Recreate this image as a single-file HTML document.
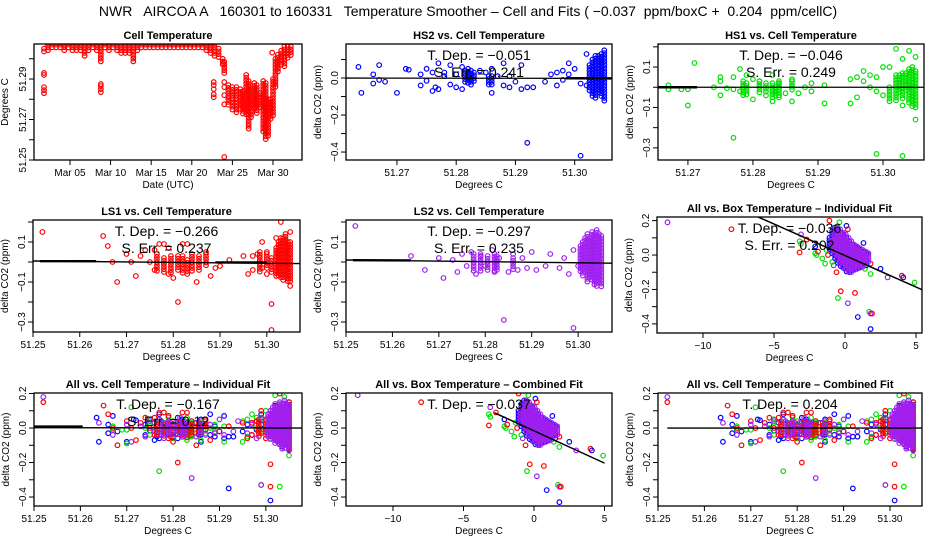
<!DOCTYPE html>
<html><head><meta charset="utf-8"><style>
html,body{margin:0;padding:0;background:#fff;}
svg{display:block;font-family:"Liberation Sans",sans-serif;}
</style></head><body>
<svg id="chart" width="936" height="540" viewBox="0 0 936 540" xmlns="http://www.w3.org/2000/svg">
<rect x="0" y="0" width="936" height="540" fill="#fff"/>
<text x="468" y="16" text-anchor="middle" font-size="14" xml:space="preserve">NWR   AIRCOA A   160301 to 160331   Temperature Smoother – Cell and Fits ( −0.037  ppm/boxC +  0.204  ppm/cellC)</text>
</svg>
<script>
// ===== Panel 1: cell temperature time series (range columns + isolated points)
const cellDay=[1.8,2.3,2.8,3.3,3.8,4.3,4.8,5.3,5.8,6.3,6.8,7.3,7.8,8.3,8.8,9.3,9.8,10.3,10.8,11.3,11.8,12.3,12.8,13.3,13.8,14.3,14.8,15.3,15.8,16.3,16.8,17.3,17.8,18.3,18.8,19.3,19.8,20.3,20.8,21.3,21.8,22.3,22.8,23.3,23.8,24.0,24.5,25.0,25.5,26.0,26.3,26.7,27.0,27.3,27.7,28.0,28.4,28.8,29.1,29.4,29.7,30.0,30.3,30.6,31.0,31.4,31.8,32.2];
const cellTop=[51.305,51.307,51.307,51.307,51.307,51.307,51.307,51.307,51.307,51.307,51.307,51.307,51.307,51.307,51.307,51.307,51.307,51.307,51.307,51.307,51.307,51.307,51.307,51.307,51.307,51.307,51.307,51.307,51.307,51.307,51.307,51.307,51.307,51.307,51.307,51.307,51.307,51.307,51.307,51.307,51.307,51.307,51.307,51.305,51.300,51.2985,51.287,51.286,51.286,51.285,51.284,51.292,51.289,51.285,51.288,51.287,51.283,51.289,51.288,51.280,51.280,51.290,51.300,51.302,51.304,51.306,51.306,51.306];
const cellBot=[51.303,51.304,51.3045,51.3045,51.305,51.304,51.305,51.3035,51.304,51.304,51.3005,51.304,51.3045,51.304,51.2985,51.3045,51.303,51.305,51.304,51.302,51.3015,51.302,51.2975,51.303,51.3045,51.3055,51.3055,51.3055,51.3055,51.3055,51.3055,51.3055,51.3055,51.3055,51.3055,51.3055,51.3055,51.3055,51.305,51.305,51.304,51.302,51.3005,51.300,51.297,51.292,51.277,51.274,51.273,51.275,51.272,51.272,51.265,51.270,51.275,51.273,51.275,51.264,51.260,51.262,51.270,51.272,51.285,51.293,51.296,51.295,51.300,51.3015];
const cellPtDay=[1.8,1.8,1.8,1.8,1.8,8.8,8.8,8.8,8.8,22.7,22.7,22.7,22.7,22.7,24.0,24.0,24.0,24.0,24.0,29.9];
const cellPtT=[51.293,51.292,51.286,51.2845,51.283,51.2875,51.2865,51.285,51.2835,51.2885,51.287,51.285,51.2825,51.281,51.2885,51.286,51.282,51.2775,51.2515,51.303];
const dateTickDays=[5,10,15,20,25,30];
const dateTickLabels=["Mar 05","Mar 10","Mar 15","Mar 20","Mar 25","Mar 30"];

// ===== HS2 (blue)
const hs2X=[51.2635,51.264,51.266,51.266,51.267,51.267,51.268,51.270,51.2715,51.272,51.274,51.274,51.275,51.275,51.276,51.276,51.2765,51.277,51.277,51.278,51.278,51.279,51.279,51.280,51.280,51.281,51.281,51.284,51.285,51.286,51.286,51.287,51.288,51.288,51.289,51.289,51.290,51.291,51.291,51.292,51.292,51.293,51.295,51.296,51.297,51.297,51.298,51.298,51.299,51.299,51.300,51.301,51.301,51.302,51.302];
const hs2Y=[0.06,-0.08,0.02,-0.03,0.07,-0.01,-0.02,-0.08,0.05,0.045,0.02,-0.04,0.05,-0.015,0.03,-0.07,-0.05,0.08,-0.06,0.01,0.03,0.07,-0.035,0.02,-0.05,0.06,-0.06,0.04,0.03,0.05,-0.08,0.01,0.08,-0.04,-0.05,0.01,-0.02,0.07,-0.06,-0.35,-0.05,-0.05,-0.02,0.02,0.03,-0.04,-0.01,0.04,0.08,0.02,0.05,-0.42,-0.03,0.13,-0.04];
const hs2BandX=[51.2815,51.282,51.2825,51.283,51.2855,51.286,51.3025,51.303,51.3035,51.304,51.3045,51.305];
const hs2BandTop=[0.04,0.05,0.04,0.03,0.01,0.01,0.07,0.10,0.12,0.12,0.13,0.15];
const hs2BandBot=[-0.03,-0.04,-0.04,-0.03,-0.04,-0.04,-0.07,-0.10,-0.11,-0.09,-0.10,-0.13];

// ===== HS1 (green)
const hs1X=[51.267,51.267,51.269,51.270,51.270,51.271,51.274,51.275,51.275,51.275,51.276,51.277,51.277,51.277,51.278,51.278,51.279,51.280,51.280,51.281,51.282,51.283,51.283,51.284,51.284,51.285,51.286,51.286,51.287,51.288,51.289,51.289,51.291,51.291,51.295,51.295,51.296,51.296,51.297,51.297,51.298,51.298,51.299,51.299,51.299,51.300,51.300,51.301,51.302,51.303,51.303,51.303,51.304,51.305,51.305];
const hs1Y=[0.01,-0.01,-0.01,-0.09,-0.01,0.12,0.0,0.05,0.03,-0.04,-0.005,0.05,-0.25,-0.01,0.09,-0.02,0.06,0.04,-0.06,0.03,-0.04,0.06,-0.07,0.02,-0.05,-0.03,-0.07,0.04,-0.03,0.0,0.02,-0.02,0.01,-0.08,0.04,-0.08,0.05,-0.05,0.08,0.03,0.06,0.0,0.05,-0.02,-0.33,0.10,-0.04,0.10,0.19,0.14,-0.09,-0.34,0.18,0.15,-0.16];
const hs1BandX=[51.2785,51.279,51.281,51.282,51.283,51.2835,51.284,51.286,51.301,51.302,51.3025,51.303,51.3035,51.304,51.3045,51.305];
const hs1BandTop=[0.03,0.02,0.03,0.02,0.02,0.0,0.03,0.03,0.0,0.06,0.06,0.07,0.07,0.09,0.10,0.08];
const hs1BandBot=[-0.05,-0.04,-0.03,-0.03,-0.06,-0.05,-0.04,-0.02,-0.07,-0.07,-0.03,-0.06,-0.02,-0.09,-0.10,-0.11];

// ===== LS1 (red)
const ls1X=[51.252,51.265,51.266,51.267,51.268,51.270,51.271,51.272,51.273,51.274,51.275,51.276,51.276,51.277,51.278,51.279,51.279,51.280,51.281,51.282,51.283,51.285,51.287,51.288,51.289,51.290,51.292,51.295,51.296,51.297,51.297,51.298,51.299,51.299,51.300,51.300,51.301,51.301,51.302,51.303,51.305,51.305];
const ls1Y=[0.15,0.13,0.08,0.0,-0.10,0.04,0.0,-0.07,0.03,0.06,0.0,0.06,-0.04,0.09,0.09,0.07,-0.06,-0.08,-0.20,0.09,0.09,-0.10,0.05,-0.07,-0.03,-0.02,0.01,0.03,-0.06,-0.04,0.03,0.04,0.10,-0.03,0.05,-0.06,-0.21,-0.34,0.12,0.20,0.15,-0.12];
const ls1BandX=[51.2765,51.278,51.2795,51.281,51.282,51.283,51.284,51.2855,51.287,51.2985,51.300,51.301,51.302,51.3025,51.303,51.3035,51.304,51.3045,51.305];
const ls1BandTop=[0.04,0.02,0.03,0.03,0.03,0.01,0.04,0.03,0.04,0.05,0.04,0.02,0.07,0.10,0.12,0.12,0.14,0.10,0.10];
const ls1BandBot=[-0.05,-0.06,-0.06,-0.05,-0.06,-0.06,-0.05,-0.04,-0.02,-0.05,-0.03,-0.05,-0.07,-0.08,-0.08,-0.09,-0.08,-0.10,-0.10];

// ===== LS2 (purple)
const ls2X=[51.252,51.264,51.267,51.270,51.271,51.273,51.274,51.275,51.276,51.277,51.278,51.279,51.280,51.2815,51.282,51.283,51.284,51.285,51.286,51.287,51.288,51.289,51.290,51.291,51.293,51.294,51.296,51.297,51.298,51.299,51.299,51.300];
const ls2Y=[0.18,0.03,-0.04,0.02,-0.08,0.01,-0.05,0.04,-0.02,0.05,-0.06,0.03,-0.02,0.06,-0.05,0.02,-0.29,-0.05,0.04,-0.04,0.02,-0.03,0.05,-0.04,-0.02,0.04,-0.03,0.02,-0.06,-0.33,0.06,-0.02];
const ls2BandX=[51.2775,51.279,51.2805,51.282,51.2825,51.286,51.3005,51.301,51.3015,51.302,51.3025,51.303,51.3035,51.304,51.3045,51.305];
const ls2BandTop=[0.04,0.04,0.03,0.04,0.03,0.02,0.08,0.10,0.12,0.14,0.12,0.15,0.14,0.16,0.14,0.13];
const ls2BandBot=[-0.05,-0.05,-0.04,-0.05,-0.04,-0.04,-0.05,-0.07,-0.06,-0.10,-0.08,-0.10,-0.12,-0.12,-0.10,-0.13];

// ===== All instruments vs box temperature
const boxX=[-12.5,-8,-3.2,-3.2,-3.1,-3.1,-2.7,-2.1,-2.1,-2.0,-1.9,-1.6,-1.4,-1.2,-1.3,-1.1,-0.4,-0.8,-0.8,-0.6,-0.9,0.1,0.2,1.3,1.0,1.4,1.8,2.5,3.0,4.0,4.1,4.9,-0.3,-0.5,0.2,0.7,0.9,1.7,1.8,1.9,1.8,1.8,1.5,1.6];
const boxY=[0.19,0.15,0.015,0.08,0.065,0.12,0.09,0.05,0.01,0.0,0.02,-0.02,-0.05,0.0,0.03,0.20,0.19,0.05,-0.06,-0.10,-0.04,0.17,0.15,0.07,0.03,-0.08,-0.05,-0.08,-0.13,-0.12,-0.13,-0.16,-0.21,-0.25,-0.28,-0.22,-0.36,-0.33,-0.34,-0.34,-0.43,-0.11,-0.06,0.01];
const boxC=["p","r","r","g","g","p","r","b","g","g","r","g","g","r","g","r","g","r","p","r","g","b","r","b","g","g","r","b","p","r","b","g","r","g","p","r","b","g","p","r","b","g","b","p"];
const boxBandX=[-1.0,-0.8,-0.6,-0.4,-0.2,0,0.2,0.4,0.6,0.8,1.0,1.2,1.4,1.6];
const boxBandTop=[0.10,0.14,0.16,0.15,0.13,0.12,0.10,0.08,0.06,0.05,0.04,0.03,0.02,0.01];
const boxBandBot=[0.03,0.0,-0.03,-0.06,-0.08,-0.09,-0.10,-0.10,-0.09,-0.09,-0.08,-0.07,-0.06,-0.05];

// ===== fits / annotations
const fitSlopeBoxInd=-0.0366, fitIntBoxInd=-0.003;
const fitSlopeBoxComb=-0.0374, fitIntBoxComb=-0.0165;
const tDep={hs2:"−0.051",hs1:"−0.046",ls1:"−0.266",ls2:"−0.297",boxInd:"−0.036",cellInd:"−0.167",boxComb:"−0.037",cellComb:"0.204"};
const sErr={hs2:"0.241",hs1:"0.249",ls1:"0.237",ls2:"0.235",boxInd:"0.202",cellInd:"0.12"};

const COL={r:"#ff0000",g:"#00e000",b:"#0000ff",p:"#a020f0"};
const NS="http://www.w3.org/2000/svg";
const svg=document.getElementById("chart");
function mk(tag,name,attrs,parent){
  const el=document.createElementNS(NS,tag);
  
  
  for(const k in attrs) el.setAttribute(k,attrs[k]);
  (parent||svg).appendChild(el);
  return el;
}
function txt(name,x,y,s,attrs,parent){const t=mk("text",name,Object.assign({x:x,y:y},attrs),parent);t.textContent=s;return t;}
let clipN=0;
function panel(o){
  const g=mk("g",o.name,{});
  const sx=v=>o.l+(v-o.x0)/(o.x1-o.x0)*(o.r-o.l);
  const sy=v=>o.b-(v-o.y0)/(o.y1-o.y0)*(o.b-o.t);
  const id="clip"+(clipN++);
  const cp=mk("clipPath","clip-region",{id:id},g);
  mk("rect","clip-rect",{x:o.l,y:o.t,width:o.r-o.l,height:o.b-o.t},cp);
  const marks=mk("g","marks",{"clip-path":"url(#"+id+")"},g);
  mk("rect","plot-frame",{x:o.l,y:o.t,width:o.r-o.l,height:o.b-o.t,fill:"none",stroke:"#000","stroke-width":1.3},g);
  txt("panel-title",(o.l+o.r)/2,o.t-5,o.title,{"text-anchor":"middle","font-size":11,"font-weight":"bold"},g);
  o.xt.forEach((v,i)=>{const x=sx(v);
    mk("line","x-tick",{x1:x,x2:x,y1:o.b,y2:o.b+5,stroke:"#000"},g);
    txt("x-tick-label",x,o.b+16,o.xl[i],{"text-anchor":"middle","font-size":10},g);});
  mk("line","x-axis-line",{x1:sx(o.xt[0]),x2:sx(o.xt[o.xt.length-1]),y1:o.b,y2:o.b,stroke:"#000"},g);
  o.yt.forEach((v,i)=>{const y=sy(v);
    mk("line","y-tick",{x1:o.l-5,x2:o.l,y1:y,y2:y,stroke:"#000"},g);
    if(o.yl[i]) txt("y-tick-label",o.l-8,y,o.yl[i],{"text-anchor":"middle","font-size":10,transform:"rotate(-90 "+(o.l-8)+" "+y+")"},g);});
  txt("x-axis-title",(o.l+o.r)/2,o.b+28,o.xtitle,{"text-anchor":"middle","font-size":10},g);
  const yx=o.l-(o.ytitle==="Degrees C"?26:25), ym=(o.t+o.b)/2;
  txt("y-axis-title",yx,ym,o.ytitle,{"text-anchor":"middle","font-size":10,transform:"rotate(-90 "+yx+" "+ym+")"},g);
  return {g,marks,sx,sy,o};
}
function dot(P,x,y,c){mk("circle","data-point",{cx:x,cy:y,r:2.3,fill:"none",stroke:c,"stroke-width":1.2},P.marks);}
function pts(P,X,Y,c){X.forEach((v,i)=>dot(P,P.sx(v),P.sy(Y[i]),c));}
function bands(P,X,T,B,c,dx){X.forEach((v,i)=>{const x=P.sx(v)+(dx||0);let y0=P.sy(T[i]),y1=P.sy(B[i]);for(let y=y0;y<=y1+0.01;y+=2.8)dot(P,x,y,c);});}
function hline(P,x0,x1,y0,y1,w){mk("line","fit-line",{x1:P.sx(x0),x2:P.sx(x1),y1:P.sy(y0),y2:P.sy(y1),stroke:"#000","stroke-width":w||1.5},P.marks);}
function ann(P,dep,err){const cx=(P.o.l+P.o.r)/2;
  txt("t-dep-annotation",cx,P.o.t+16,"T. Dep. =  "+dep,{"text-anchor":"middle","font-size":14,"xml:space":"preserve"},P.g);
  if(err) txt("s-err-annotation",cx,P.o.t+33,"S. Err. = "+err,{"text-anchor":"middle","font-size":14},P.g);}

const cellT=[51.27,51.28,51.29,51.30], cellTL=["51.27","51.28","51.29","51.30"];
const cellT5=[51.25,51.26,51.27,51.28,51.29,51.30], cellT5L=["51.25","51.26","51.27","51.28","51.29","51.30"];
const boxT=[-10,-5,0,5], boxTL=["−10","−5","0","5"];

// P1
const P1=panel({name:"cell-temperature-panel",l:34,t:44,r:302,b:160,x0:0.57,x1:33.57,y0:51.25,y1:51.3073,title:"Cell Temperature",xtitle:"Date (UTC)",ytitle:"Degrees C",xt:dateTickDays,xl:dateTickLabels,yt:[51.25,51.26,51.27,51.28,51.29,51.30],yl:["51.25","","51.27","","51.29",""]});
bands(P1,cellDay,cellTop,cellBot,COL.r);
pts(P1,cellPtDay,cellPtT,COL.r);

// P2 HS2
const P2=panel({name:"hs2-panel",l:346,t:44,r:612,b:160,x0:51.2614,x1:51.3063,y0:-0.443,y1:0.184,title:"HS2 vs. Cell Temperature",xtitle:"Degrees C",ytitle:"delta CO2 (ppm)",xt:cellT,xl:cellTL,yt:[-0.4,-0.3,-0.2,-0.1,0,0.1],yl:["−0.4","","−0.2","","0.0",""]});
pts(P2,hs2X,hs2Y,COL.b);bands(P2,hs2BandX,hs2BandTop,hs2BandBot,COL.b);
hline(P2,51.2614,51.3063,0.0,-0.002,1.3);hline(P2,51.2985,51.3063,-0.001,-0.002,2.5);
ann(P2,tDep.hs2,sErr.hs2);

// P3 HS1
const P3=panel({name:"hs1-panel",l:658,t:44,r:924,b:160,x0:51.2654,x1:51.3063,y0:-0.36,y1:0.214,title:"HS1 vs. Cell Temperature",xtitle:"Degrees C",ytitle:"delta CO2 (ppm)",xt:cellT,xl:cellTL,yt:[-0.3,-0.2,-0.1,0,0.1,0.2],yl:["−0.3","","−0.1","","0.1",""]});
pts(P3,hs1X,hs1Y,COL.g);bands(P3,hs1BandX,hs1BandTop,hs1BandBot,COL.g);
hline(P3,51.2654,51.3063,0.0,0.0,1.3);hline(P3,51.2654,51.2714,0.0,0.0,2.5);
ann(P3,tDep.hs1,sErr.hs1);

// P4 LS1
const P4=panel({name:"ls1-panel",l:33,t:220,r:300,b:332,x0:51.25,x1:51.3071,y0:-0.35,y1:0.21,title:"LS1 vs. Cell Temperature",xtitle:"Degrees C",ytitle:"delta CO2 (ppm)",xt:cellT5,xl:cellT5L,yt:[-0.3,-0.2,-0.1,0,0.1,0.2],yl:["−0.3","","−0.1","","0.1",""]});
pts(P4,ls1X,ls1Y,COL.r);bands(P4,ls1BandX,ls1BandTop,ls1BandBot,COL.r);
hline(P4,51.25,51.3071,0.005,-0.008,1.4);hline(P4,51.2515,51.2635,0.004,0.004,2.4);hline(P4,51.289,51.3,-0.002,-0.002,2.4);
ann(P4,tDep.ls1,sErr.ls1);

// P5 LS2
const P5=panel({name:"ls2-panel",l:346,t:220,r:612,b:332,x0:51.25,x1:51.3073,y0:-0.35,y1:0.21,title:"LS2 vs. Cell Temperature",xtitle:"Degrees C",ytitle:"delta CO2 (ppm)",xt:cellT5,xl:cellT5L,yt:[-0.3,-0.2,-0.1,0,0.1,0.2],yl:["−0.3","","−0.1","","0.1",""]});
pts(P5,ls2X,ls2Y,COL.p);bands(P5,ls2BandX,ls2BandTop,ls2BandBot,COL.p);
hline(P5,51.25,51.3073,0.01,-0.006,1.4);hline(P5,51.2515,51.264,0.009,0.008,2.4);
ann(P5,tDep.ls2,sErr.ls2);

// P6 box individual
function boxMarks(P){
  boxX.forEach((v,i)=>dot(P,P.sx(v),P.sy(boxY[i]),COL[boxC[i]]));
  bands(P,boxBandX,boxBandTop,boxBandBot,COL.b,-1.4);
  bands(P,boxBandX,boxBandTop,boxBandBot,COL.p,0.7);
}
const P6=panel({name:"all-vs-box-individual-panel",l:657,t:217,r:922,b:333,x0:-13.24,x1:5.42,y0:-0.453,y1:0.221,title:"All vs. Box Temperature – Individual Fit",xtitle:"Degrees C",ytitle:"delta CO2 (ppm)",xt:boxT,xl:boxTL,yt:[-0.4,-0.3,-0.2,-0.1,0,0.1,0.2],yl:["−0.4","","−0.2","","0.0","","0.2"]});
boxMarks(P6);
hline(P6,-7,5.42,fitIntBoxInd+fitSlopeBoxInd*-7,fitIntBoxInd+fitSlopeBoxInd*5.42,1.5);
ann(P6,tDep.boxInd,sErr.boxInd);

// P7 all vs cell individual
const rowY=[-0.4,-0.3,-0.2,-0.1,0,0.1,0.2], rowYL=["−0.4","","−0.2","","0.0","","0.2"];
function allCell(P){
  pts(P,hs2X,hs2Y,COL.b);bands(P,hs2BandX,hs2BandTop,hs2BandBot,COL.b);
  pts(P,hs1X,hs1Y,COL.g);bands(P,hs1BandX,hs1BandTop,hs1BandBot,COL.g);
  pts(P,ls1X,ls1Y,COL.r);bands(P,ls1BandX,ls1BandTop,ls1BandBot,COL.r);
  pts(P,ls2X,ls2Y,COL.p);bands(P,ls2BandX,ls2BandTop,ls2BandBot,COL.p);
}
const P7=panel({name:"all-vs-cell-individual-panel",l:34,t:393,r:302,b:506,x0:51.25,x1:51.3078,y0:-0.452,y1:0.203,title:"All vs. Cell Temperature – Individual Fit",xtitle:"Degrees C",ytitle:"delta CO2 (ppm)",xt:cellT5,xl:cellT5L,yt:rowY,yl:rowYL});
allCell(P7);
hline(P7,51.25,51.2605,0.008,0.008,2.6);hline(P7,51.25,51.3078,0.002,0.0,1.4);
ann(P7,tDep.cellInd,sErr.cellInd);

// P8 box combined
const P8=panel({name:"all-vs-box-combined-panel",l:346,t:393,r:612,b:506,x0:-13.33,x1:5.53,y0:-0.452,y1:0.203,title:"All vs. Box Temperature – Combined Fit",xtitle:"Degrees C",ytitle:"delta CO2 (ppm)",xt:boxT,xl:boxTL,yt:rowY,yl:rowYL});
boxMarks(P8);
hline(P8,-2.8,5,fitIntBoxComb+fitSlopeBoxComb*-2.8,fitIntBoxComb+fitSlopeBoxComb*5,1.5);
ann(P8,tDep.boxComb,null);

// P9 cell combined
const P9=panel({name:"all-vs-cell-combined-panel",l:658,t:393,r:922,b:506,x0:51.25,x1:51.3069,y0:-0.452,y1:0.203,title:"All vs. Cell Temperature – Combined Fit",xtitle:"Degrees C",ytitle:"delta CO2 (ppm)",xt:cellT5,xl:cellT5L,yt:rowY,yl:rowYL});
allCell(P9);
hline(P9,51.252,51.3069,0.0,0.0,1.4);
ann(P9,tDep.cellComb,null);
</script>
</body></html>
